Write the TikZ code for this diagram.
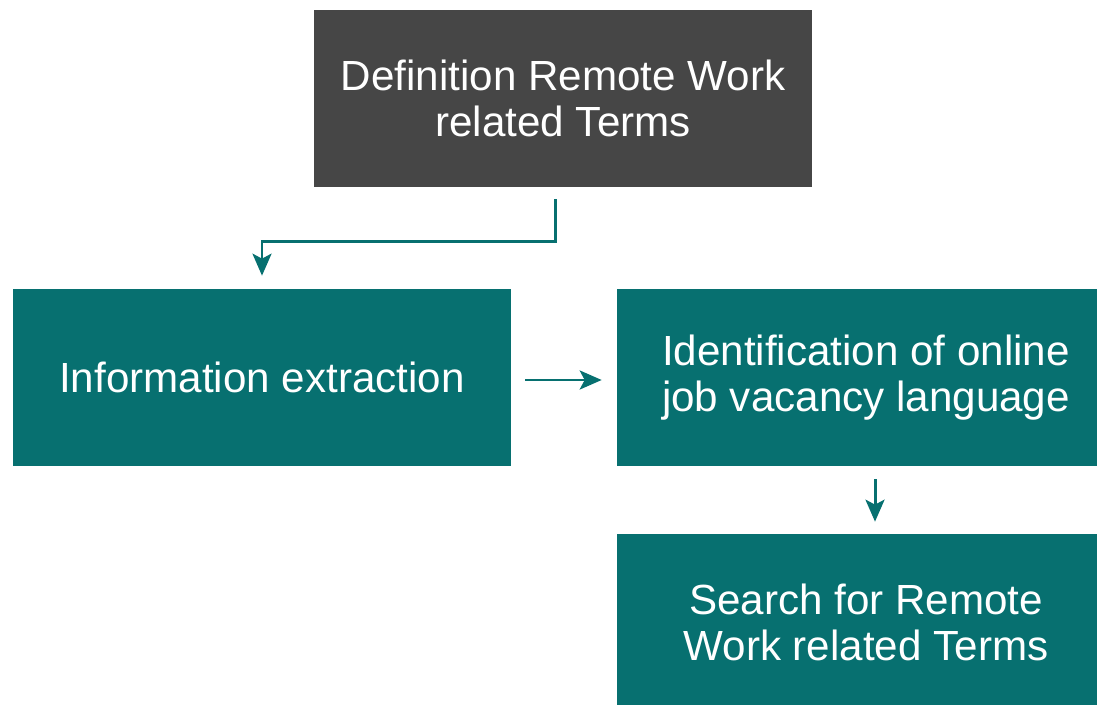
\documentclass[tikz,border=0pt]{standalone}
\usepackage{fontspec}
\setmainfont{Liberation Sans}
\usetikzlibrary{arrows.meta}
\definecolor{boxgray}{HTML}{464646}
\definecolor{boxteal}{HTML}{077070}
\begin{document}
\begin{tikzpicture}
  [
  x=0.02cm, y=-0.02cm,
  font=\fontsize{24}{26.5}\selectfont,
  step box/.style={rectangle, inner sep=0pt, minimum width=9.96cm, minimum height=3.54cm,
    text=white, align=center, fill=boxteal},
  flow/.style={draw=boxteal, line width=1.7pt, -{Stealth[length=0.44cm, width=0.38cm, inset=0.1cm]}}
  ]

\useasboundingbox (0,0) rectangle (1097,705);
\clip (0,0) rectangle (1097,705);

\node[step box, fill=boxgray] (def) at (563,98.5) {Definition Remote Work\\related Terms};
\node[step box] (info) at (262,377.5) {Information extraction};
\node[step box] (ident) at (866,377.5) {Identification of online\\job vacancy language};
\node[step box] (search) at (866,622.5) {Search for Remote\\Work related Terms};

% connectors
\coordinate (c1) at ([xshift=-0.16cm, yshift=-0.24cm]def.south);
\coordinate (c2) at ([xshift=0.18cm, yshift=-0.26cm]ident.south);
\coordinate (c3) at (c2 |- search.north);

\draw[flow, shorten >=0.26cm] (c1) -- ++(0,42) -| (info.north);
\draw[flow, shorten <=0.28cm, shorten >=0.3cm] (info.east |- 0,380) -- (ident.west |- 0,380);
\draw[flow, shorten >=0.24cm] (c2) -- (c3);

\end{tikzpicture}
\end{document}
